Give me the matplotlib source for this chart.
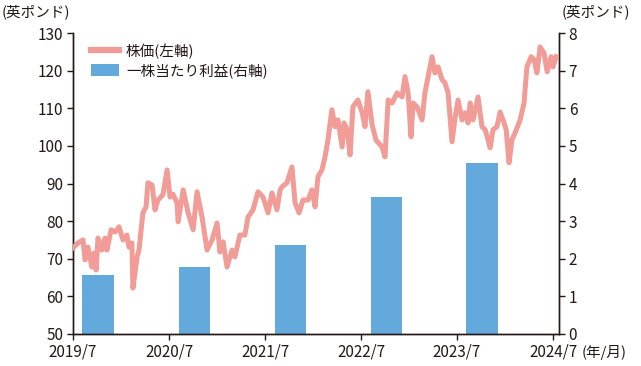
import numpy as np
import pandas as pd
import matplotlib
matplotlib.use("Agg")
import matplotlib.pyplot as plt
from matplotlib.lines import Line2D
from matplotlib.patches import Patch

plt.rcParams['font.family'] = ['Noto Sans CJK JP', 'DejaVu Sans']

# 株価 (英ポンド, 左軸)
price_dates = [
    "2019-07-01", "2019-07-20", "2019-08-08", "2019-08-16", "2019-08-27", "2019-09-11",
    "2019-09-19", "2019-09-27", "2019-10-04", "2019-10-19", "2019-10-31", "2019-11-07",
    "2019-11-23", "2019-12-08", "2019-12-23", "2020-01-07", "2020-01-22", "2020-01-30",
    "2020-02-10", "2020-02-14", "2020-03-01", "2020-03-08", "2020-03-23", "2020-04-04",
    "2020-04-11", "2020-04-27", "2020-05-08", "2020-05-19", "2020-06-07", "2020-06-23",
    "2020-07-04", "2020-07-15", "2020-07-31", "2020-08-04", "2020-08-23", "2020-09-11",
    "2020-09-30", "2020-10-15", "2020-11-03", "2020-11-22", "2020-12-11", "2020-12-30",
    "2021-01-10", "2021-01-22", "2021-02-06", "2021-02-25", "2021-03-08", "2021-03-27",
    "2021-04-15", "2021-04-27", "2021-05-16", "2021-06-04", "2021-06-23", "2021-07-12",
    "2021-07-27", "2021-08-15", "2021-08-27", "2021-09-03", "2021-09-22", "2021-10-11",
    "2021-10-23", "2021-11-07", "2021-11-22", "2021-12-11", "2021-12-26", "2022-01-07",
    "2022-01-18", "2022-02-02", "2022-02-14", "2022-02-25", "2022-03-12", "2022-03-24",
    "2022-04-04", "2022-04-20", "2022-04-27", "2022-05-09", "2022-05-20", "2022-05-31",
    "2022-06-19", "2022-07-05", "2022-07-16", "2022-07-27", "2022-08-12", "2022-08-27",
    "2022-09-19", "2022-09-30", "2022-10-12", "2022-10-27", "2022-11-15", "2022-12-04",
    "2022-12-15", "2022-12-27", "2023-01-07", "2023-01-15", "2023-01-30", "2023-02-18",
    "2023-03-01", "2023-03-13", "2023-03-28", "2023-04-08", "2023-04-20", "2023-05-05",
    "2023-05-16", "2023-05-28", "2023-06-12", "2023-06-24", "2023-07-05", "2023-07-20",
    "2023-08-01", "2023-08-12", "2023-08-20", "2023-08-31", "2023-09-19", "2023-10-04",
    "2023-10-16", "2023-10-27", "2023-11-04", "2023-11-15", "2023-11-30", "2023-12-12",
    "2023-12-23", "2024-01-04", "2024-01-15", "2024-01-26", "2024-02-07", "2024-02-26",
    "2024-03-12", "2024-03-23", "2024-04-08", "2024-04-19", "2024-04-30", "2024-05-12",
    "2024-05-27", "2024-06-08", "2024-06-23", "2024-06-30", "2024-07-12",
]
price = [
    72.9, 74.2, 75.0, 69.7, 73.1, 67.8,
    71.5, 67.0, 75.5, 72.3, 75.5, 72.3,
    77.7, 77.1, 78.5, 75.0, 76.3, 73.1,
    74.2, 62.2, 70.5, 72.3, 82.2, 83.8,
    90.2, 89.6, 83.0, 85.6, 87.0, 93.6,
    86.4, 87.2, 84.8, 79.8, 88.3, 82.2,
    77.7, 87.8, 81.1, 72.3, 75.0, 79.5,
    71.8, 74.5, 67.8, 72.3, 70.5, 76.3,
    76.3, 81.1, 83.0, 87.8, 86.4, 82.2,
    87.5, 83.0, 88.3, 89.1, 90.2, 94.4,
    84.8, 82.2, 85.6, 85.6, 88.3, 83.8,
    91.8, 93.6, 97.1, 101.6, 109.6, 105.1,
    106.9, 99.7, 106.1, 104.3, 97.6, 110.4,
    112.2, 108.8, 105.1, 114.4, 105.6, 101.5,
    99.7, 97.1, 112.2, 111.4, 114.1, 113.0,
    118.4, 114.1, 102.4, 111.4, 110.4, 106.9,
    114.1, 118.4, 123.7, 119.4, 121.0, 117.6,
    116.8, 114.1, 101.1, 107.7, 112.2, 106.9,
    108.8, 106.1, 111.4, 106.9, 113.0, 105.1,
    104.3, 101.6, 99.5, 104.3, 105.1, 109.0,
    106.9, 104.3, 95.5, 101.6, 103.5, 106.9,
    111.4, 121.0, 123.7, 122.9, 119.4, 126.3,
    124.7, 119.7, 123.7, 121.0, 123.7,
]

# 一株当たり利益 (英ポンド, 右軸)
eps_dates = ["2019-10-05", "2020-10-05", "2021-10-05", "2022-10-05", "2023-10-05"]
eps = [1.56, 1.78, 2.37, 3.64, 4.54]

tick_dates = ["2019-07-01", "2020-07-01", "2021-07-01", "2022-07-01", "2023-07-01", "2024-07-01"]
tick_labels = ["2019/7", "2020/7", "2021/7", "2022/7", "2023/7", "2024/7"]

txt = '#231815'
line_color = '#F19C97'
bar_color = '#64A9DC'

fig = plt.figure(figsize=(6.41, 3.66), dpi=100)
ax = fig.add_axes([73 / 641, 32 / 366, 486 / 641, 301 / 366])
ax2 = ax.twinx()

ax2.bar(pd.to_datetime(eps_dates), eps, width=120, color=bar_color, zorder=1)
ax.plot(pd.to_datetime(price_dates), price, color=line_color, lw=3.6,
        solid_joinstyle='round', zorder=3)

# line above the bars
ax.set_zorder(ax2.get_zorder() + 1)
ax.patch.set_visible(False)

ax.set_ylim(50, 130)
ax2.set_ylim(0, 8)
ax.set_xlim(pd.Timestamp("2019-07-01"), pd.Timestamp("2024-07-23"))
ax.set_yticks(np.arange(50, 131, 10))
ax2.set_yticks(np.arange(0, 9, 1))
ax.set_xticks(pd.to_datetime(tick_dates))
ax.set_xticklabels(tick_labels)

for a in (ax, ax2):
    a.spines['top'].set_visible(False)
    for s in a.spines.values():
        s.set_color(txt)
        s.set_linewidth(1.0)
    a.tick_params(colors=txt, labelsize=11, length=4, width=1, direction='out', pad=3)

ax.text(-0.005, 1.045, "(英ポンド)", transform=ax.transAxes, ha='right', va='bottom',
        fontsize=10.5, color=txt)
ax2.text(1.005, 1.045, "(英ポンド)", transform=ax.transAxes, ha='left', va='bottom',
         fontsize=10.5, color=txt)
ax.text(1.047, -0.062, "(年/月)", transform=ax.transAxes, ha='left', va='center',
        fontsize=10.5, color=txt)

handles = [Line2D([0], [0], color=line_color, lw=4.5),
           Patch(facecolor=bar_color, edgecolor='none')]
ax.legend(handles, ["株価(左軸)", "一株当たり利益(右軸)"], loc='upper left',
          bbox_to_anchor=(0.025, 0.985), frameon=False, fontsize=10.5,
          handlelength=1.9, handleheight=0.9, handletextpad=0.5, labelspacing=0.3,
          labelcolor=txt, borderaxespad=0)

fig.savefig("out.png", dpi=100)
